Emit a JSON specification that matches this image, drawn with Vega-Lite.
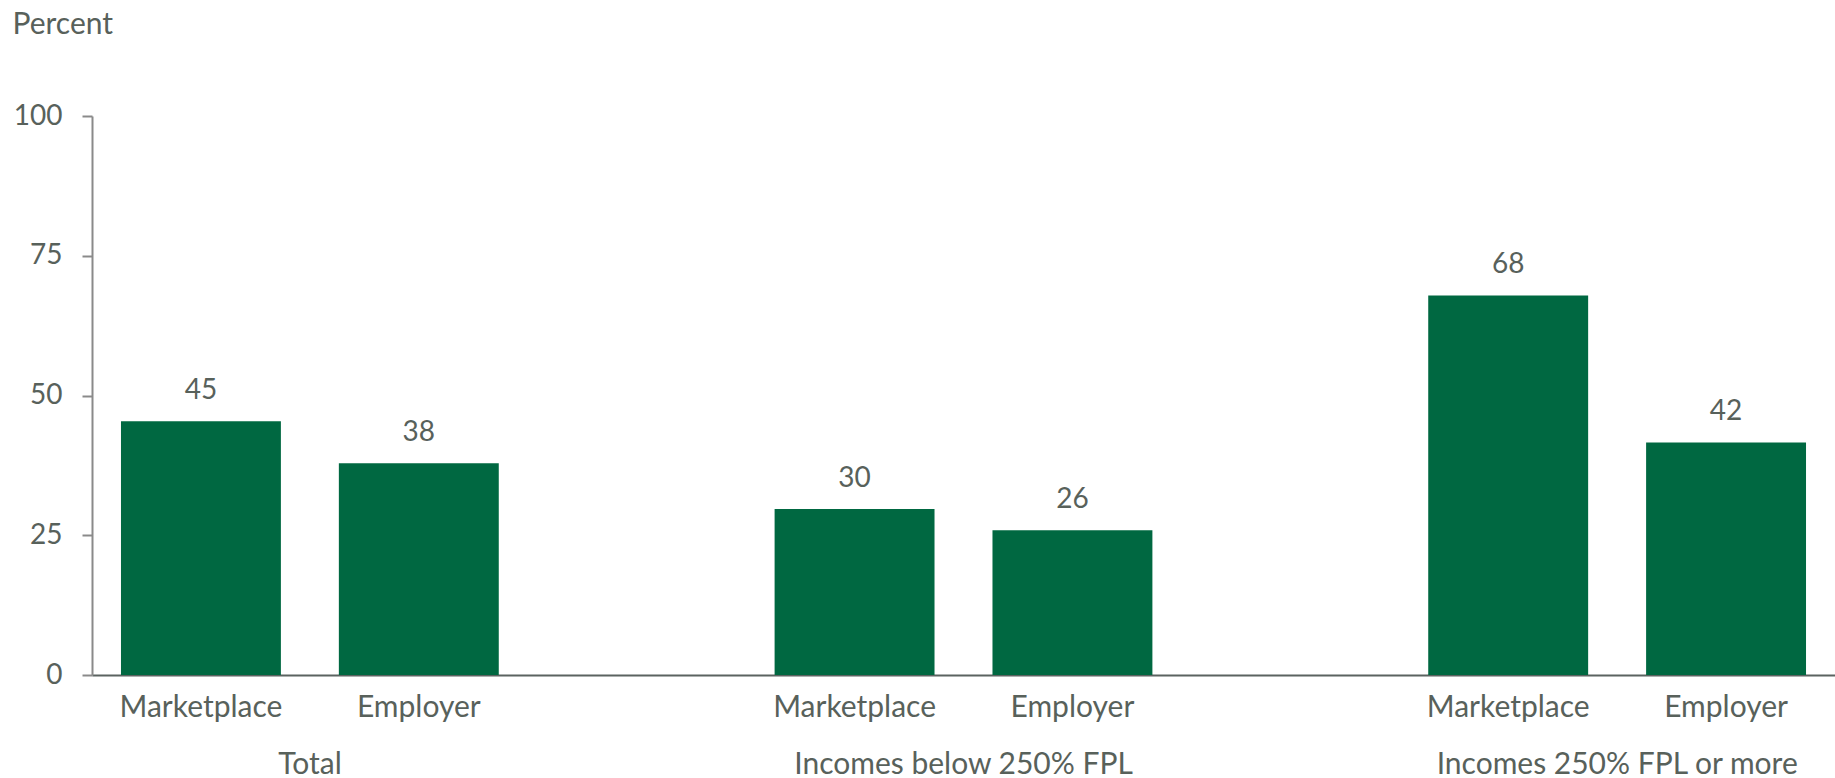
{
  "$schema": "https://vega.github.io/schema/vega-lite/v6.json",
  "width": 1743,
  "height": 559,
  "autosize": "none",
  "padding": {"left": 92, "top": 116, "right": 0, "bottom": 103},
  "background": "white",
  "config": {"view": {"stroke": null}, "font": "Lato"},
  "data": {"values": [
    {"group": "Total", "type": "Marketplace", "value": 45.4},
    {"group": "Total", "type": "Employer", "value": 37.9},
    {"group": "Incomes below 250% FPL", "type": "Marketplace", "value": 29.7},
    {"group": "Incomes below 250% FPL", "type": "Employer", "value": 25.9},
    {"group": "Incomes 250% FPL or more", "type": "Marketplace", "value": 67.9},
    {"group": "Incomes 250% FPL or more", "type": "Employer", "value": 41.6}
  ]},
  "transform": [{"calculate": "datum.group + '|' + datum.type", "as": "key"}],
  "layer": [
    {
      "mark": {"type": "bar", "color": "#006841", "width": {"band": 0.734}},
      "encoding": {
        "x": {
          "field": "key", "type": "nominal", "sort": null,
          "scale": {"domain": ["Total|Marketplace", "Total|Employer", "gap1", "Incomes below 250% FPL|Marketplace", "Incomes below 250% FPL|Employer", "gap2", "Incomes 250% FPL or more|Marketplace", "Incomes 250% FPL or more|Employer"], "paddingInner": 0, "paddingOuter": 0},
          "axis": {"orient": "bottom", "title": null, "ticks": false, "domainColor": "#5b6360", "domainWidth": 2, "labelExpr": "(datum.value == 'gap1' || datum.value == 'gap2') ? '' : split(datum.value, '|')[1]", "labelAngle": 0, "labelFontSize": 30, "labelColor": "#58615b", "labelPadding": 41, "labelBaseline": "alphabetic", "labelFont": "Lato", "labelLimit": 0}
        },
        "y": {
          "field": "value", "type": "quantitative", "scale": {"domain": [0, 100]},
          "axis": {"values": [0, 25, 50, 75, 100], "title": "Percent", "titleAngle": 0, "titleX": -80, "titleY": -83, "titleAlign": "left", "titleBaseline": "alphabetic", "titleFontWeight": "normal", "titleFontSize": 30, "titleColor": "#58615b", "titleFont": "Lato", "grid": false, "domainColor": "#8a8a8a", "domainWidth": 2, "tickColor": "#8a8a8a", "tickWidth": 2, "tickSize": 10, "labelPadding": 20, "labelFontSize": 28, "labelColor": "#58615b", "labelFont": "Lato"}
        }
      }
    },
    {
      "mark": {"type": "text", "dy": -22, "baseline": "alphabetic", "fontSize": 28, "color": "#58615b", "font": "Lato"},
      "encoding": {
        "x": {
          "field": "key", "type": "nominal", "sort": null,
          "scale": {"domain": ["Total|Marketplace", "Total|Employer", "gap1", "Incomes below 250% FPL|Marketplace", "Incomes below 250% FPL|Employer", "gap2", "Incomes 250% FPL or more|Marketplace", "Incomes 250% FPL or more|Employer"], "paddingInner": 0, "paddingOuter": 0},
          "axis": {"orient": "bottom", "title": null, "ticks": false, "domain": false, "values": ["Total|Marketplace", "Incomes below 250% FPL|Marketplace", "Incomes 250% FPL or more|Marketplace"], "labelOffset": 109, "labelExpr": "split(datum.value, '|')[0]", "labelAngle": 0, "labelPadding": 98, "labelBaseline": "alphabetic", "labelFontSize": 30, "labelColor": "#58615b", "labelFont": "Lato", "labelLimit": 0, "labelOverlap": false}
        },
        "y": {"field": "value", "type": "quantitative", "scale": {"domain": [0, 100]}},
        "text": {"field": "value", "type": "quantitative", "format": ".0f"}
      }
    }
  ],
  "resolve": {"axis": {"x": "independent"}}
}
